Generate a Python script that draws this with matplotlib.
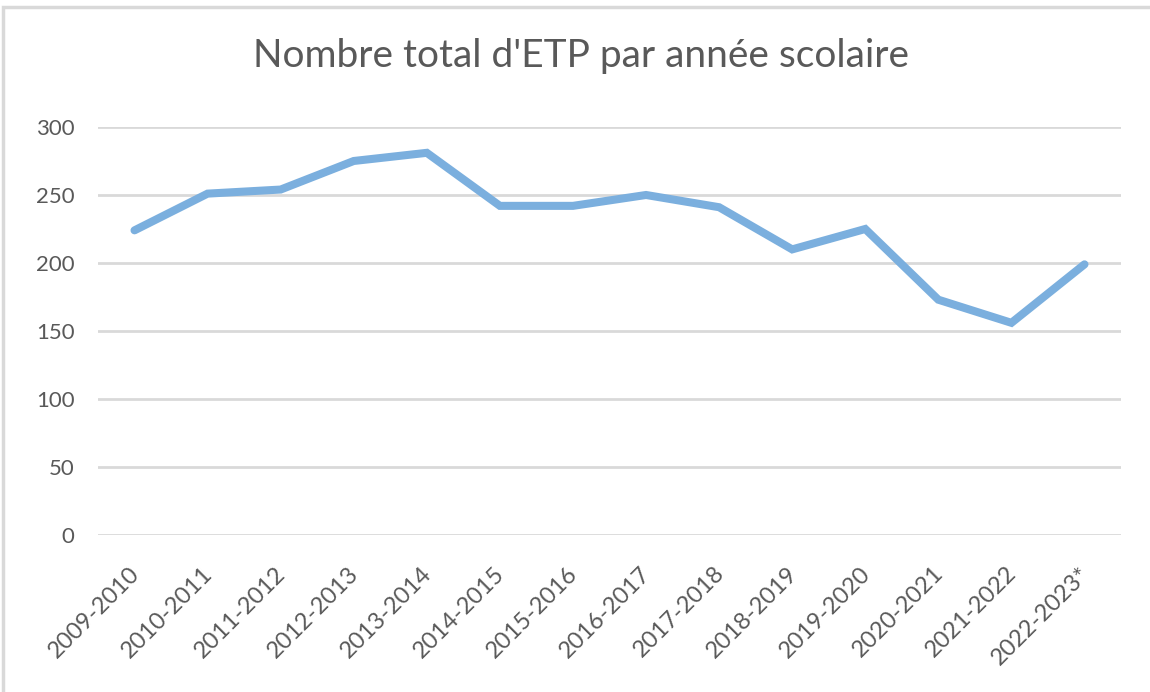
import matplotlib.pyplot as plt
from matplotlib.patches import Rectangle
from matplotlib.transforms import ScaledTranslation

# données
annees = ['2009-2010', '2010-2011', '2011-2012', '2012-2013', '2013-2014',
          '2014-2015', '2015-2016', '2016-2017', '2017-2018', '2018-2019',
          '2019-2020', '2020-2021', '2021-2022', '2022-2023*']
etp = [224, 251, 254, 275, 281, 242, 242, 250, 241, 210, 225, 173, 156, 199]
yticks = [0, 50, 100, 150, 200, 250, 300]

gris_txt = '#595959'
plt.rcParams['font.family'] = ['Lato', 'DejaVu Sans']

fig = plt.figure(figsize=(11.5, 6.92), dpi=100)
ax = fig.add_axes([0.0852, 0.2269, 0.8896, 0.5896])

x = list(range(len(annees)))
ax.plot(x, etp, color='#7BAFDE', lw=5.8, solid_capstyle='round',
        solid_joinstyle='miter', zorder=3)

ax.set_xlim(-0.5, len(annees) - 0.5)
ax.set_ylim(0, 300)
ax.set_yticks(yticks)
ax.set_xticks(x)
ax.set_xticklabels(annees, rotation=45, ha='right', rotation_mode='anchor')
ax.grid(axis='y', color='#D9D9D9', lw=2)
ax.set_axisbelow(True)
for s in ax.spines.values():
    s.set_visible(False)
ax.tick_params(length=0, labelsize=16, colors=gris_txt)
ax.tick_params(axis='x', labelsize=17, pad=20)
ax.tick_params(axis='y', pad=17)

# petit décalage des étiquettes vers la gauche
decal = ScaledTranslation(-6 / 100, 0, fig.dpi_scale_trans)
for lab in ax.get_xticklabels():
    lab.set_transform(lab.get_transform() + decal)

fig.text(0.505, 0.903, "Nombre total d'ETP par année scolaire",
         ha='center', va='baseline', fontsize=28, color=gris_txt)

# cadre du graphique
fig.patches.append(Rectangle((0.003, -0.1), 1.2, 1.09, transform=fig.transFigure,
                             fill=False, ec='#D9D9D9', lw=2.5))

fig.savefig('out.png', dpi=100, facecolor='white')
